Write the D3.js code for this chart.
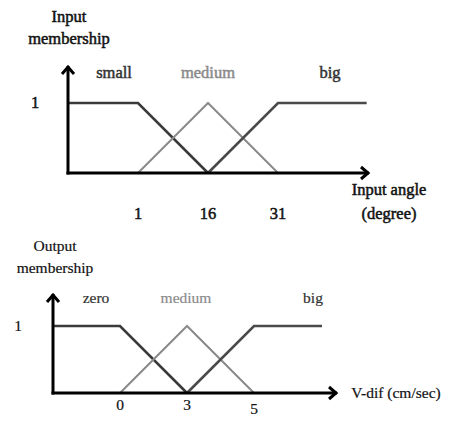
<!DOCTYPE html>
<html><head><meta charset="utf-8">
<script src="https://cdn.jsdelivr.net/npm/d3@7"></script>
<style>body{margin:0;background:#fff}svg{display:block}</style>
</head><body>
<script>
// ---- data ----
const inputTicks = [1, 16, 31];
const inputSmall = [[-14, 1], [1, 1], [16, 0]];
const inputMedium = [[1, 0], [16, 1], [31, 0]];
const inputBig = [[16, 0], [31, 1], [50, 1]];
const inputNames = ["small", "medium", "big"];

const outputTicks = [0, 3, 5];
const outputZero = [[-3, 1], [0, 1], [3, 0]];
const outputMedium = [[0, 0], [3, 1], [5, 0]];
const outputBig = [[3, 0], [5, 1], [7, 1]];
const outputNames = ["zero", "medium", "big"];

const W = 449, H = 433;
const svg = d3.select("body").append("svg").attr("width", W).attr("height", H);
const FAMILY = "'Liberation Serif', 'Times New Roman', Times, 'DejaVu Serif', serif";

const colors = ["#3a3a3a", "#8a8a8a", "#4a4a4a"];

function chart(cfg) {
  const g = svg.append("g");
  const x = cfg.x, y = cfg.y;
  const line = d3.line().x(d => x(d[0])).y(d => y(d[1]));
  cfg.series.forEach((s, i) => {
    g.append("path").datum(s).attr("d", line).attr("fill", "none")
      .attr("stroke", colors[i]).attr("stroke-width", i === 1 ? 2 : 2.6);
  });
  const x0 = x.range()[0], y0 = y(0);
  g.append("line").attr("x1", x0).attr("x2", x0).attr("y1", y0 + 1.5).attr("y2", cfg.yTop)
    .attr("stroke", "#000").attr("stroke-width", 3);
  g.append("path").attr("d", `M${x0 - 6},${cfg.yTop + 8}L${x0},${cfg.yTop + 1}L${x0 + 6},${cfg.yTop + 8}`)
    .attr("fill", "none").attr("stroke", "#000").attr("stroke-width", 3);
  g.append("line").attr("x1", x0 - 1.5).attr("x2", cfg.xEnd).attr("y1", y0).attr("y2", y0)
    .attr("stroke", "#000").attr("stroke-width", 3);
  g.append("path").attr("d", `M${cfg.xEnd - 8},${y0 - 6}L${cfg.xEnd - 1},${y0}L${cfg.xEnd - 8},${y0 + 6}`)
    .attr("fill", "none").attr("stroke", "#000").attr("stroke-width", 3);
  const txt = (sel, color) => sel.attr("font-family", FAMILY).attr("font-size", cfg.size)
    .attr("text-anchor", "middle").attr("fill", color)
    .attr("stroke", color).attr("stroke-width", cfg.embolden);
  g.selectAll("text.tick").data(cfg.ticks).enter().append("text")
    .attr("x", d => x(d)).attr("y", (d, i) => cfg.tickY + (cfg.tickDy ? cfg.tickDy[i] : 0))
    .call(txt, "#111").text(d => d);
  g.append("text").attr("x", cfg.oneX).attr("y", y(1) + 5).call(txt, "#111").text("1");
  cfg.names.forEach((n, i) => {
    g.append("text").attr("x", cfg.nameX[i]).attr("y", cfg.nameY)
      .call(txt, i === 1 ? "#8a8a8a" : "#333").text(n);
  });
  cfg.yTitle.forEach((t, i) => {
    g.append("text").attr("x", cfg.yTitleX).attr("y", cfg.yTitleY + i * 22).call(txt, "#111").text(t);
  });
  cfg.xTitle.forEach((t, i) => {
    g.append("text").attr("x", cfg.xTitleX).attr("y", cfg.xTitleY + i * 24).call(txt, "#111").text(t);
  });
}

chart({
  x: d3.scaleLinear().domain([-14, 31]).range([68, 278]),
  y: d3.scaleLinear().domain([0, 1]).range([173, 103]),
  series: [inputSmall, inputMedium, inputBig],
  ticks: inputTicks, tickY: 219,
  names: inputNames, nameX: [114, 208, 330], nameY: 78,
  yTop: 66, xEnd: 369, oneX: 35,
  yTitle: ["Input", "membership"], yTitleX: 69, yTitleY: 22,
  xTitle: ["Input angle", "(degree)"], xTitleX: 389, xTitleY: 195,
  size: 16.5, embolden: 0.5
});

chart({
  x: d3.scaleLinear().domain([-3, 0, 3, 5, 7]).range([53, 120, 187, 254, 322]),
  y: d3.scaleLinear().domain([0, 1]).range([393, 326]),
  series: [outputZero, outputMedium, outputBig],
  ticks: outputTicks, tickY: 410, tickDy: [0, 0, 4],
  names: outputNames, nameX: [96, 186, 313], nameY: 303,
  yTop: 294, xEnd: 337, oneX: 18,
  yTitle: ["Output", "membership"], yTitleX: 55, yTitleY: 251,
  xTitle: ["V-dif (cm/sec)"], xTitleX: 396, xTitleY: 398,
  size: 15.5, embolden: 0.2
});
</script>
</body></html>
